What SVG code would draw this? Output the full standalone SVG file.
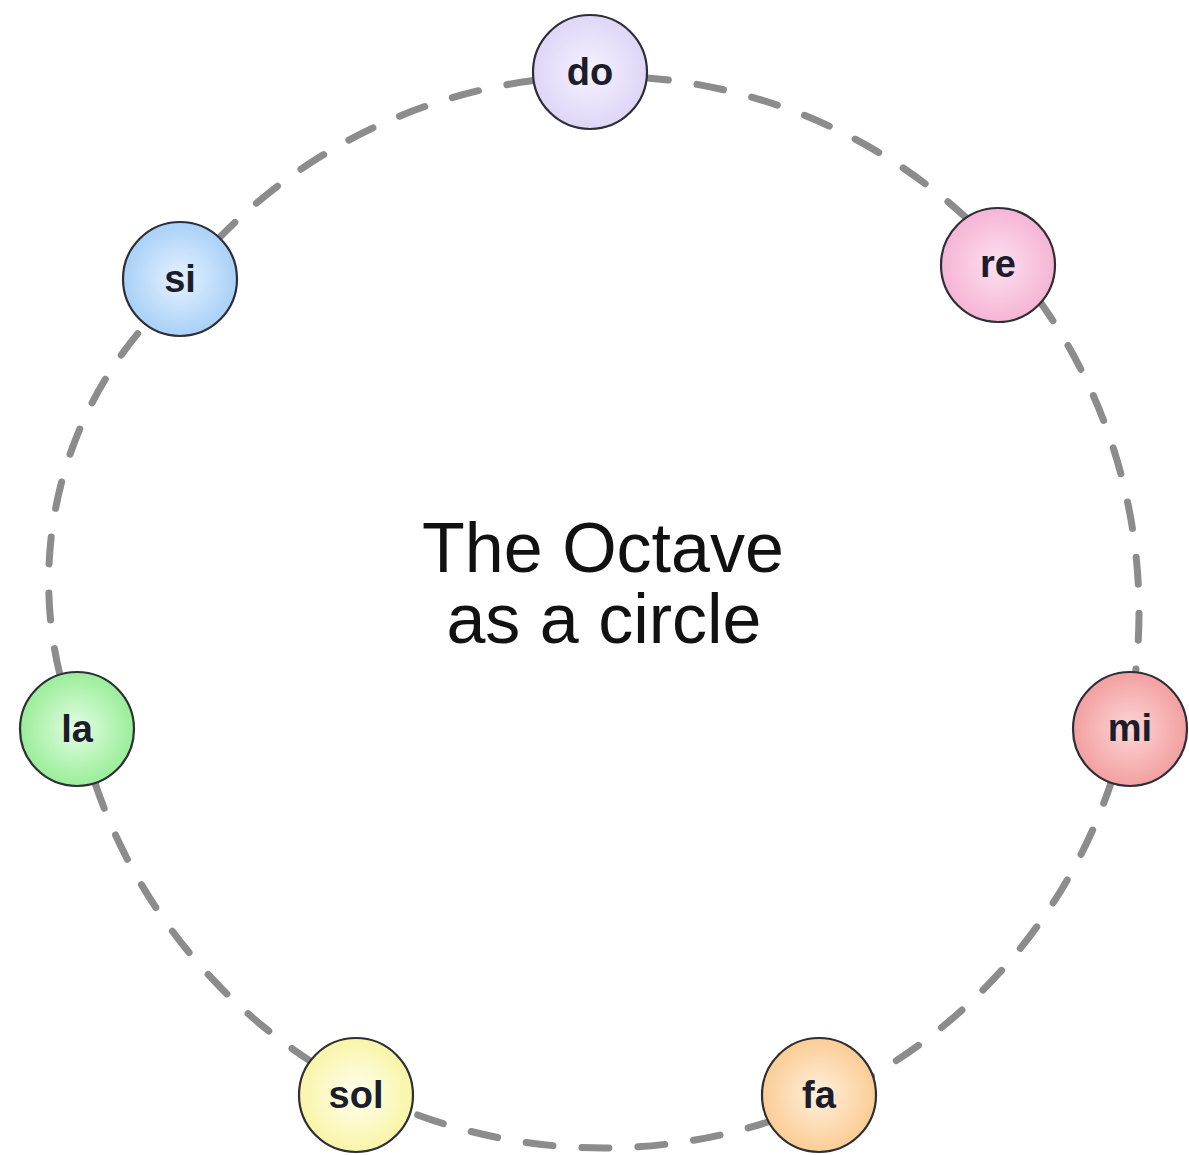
<svg xmlns="http://www.w3.org/2000/svg" width="1189" height="1155" viewBox="0 0 1189 1155">
  <style>
    .edge { fill: none; stroke: #8c8c8c; stroke-width: 7; stroke-dasharray: 27 29; stroke-linecap: round; }
    .node circle { stroke: #2e2e36; stroke-width: 2.2; }
    .label { font-family: "Liberation Sans", Arial, sans-serif; font-weight: bold; font-size: 38px; fill: #1c1c2a; text-anchor: middle; }
    .title { font-family: "Liberation Sans", Arial, sans-serif; font-size: 70px; fill: #111; text-anchor: middle; }
  </style>
  <defs>
    <radialGradient id="gDo" cx="50%" cy="50%" r="55%"><stop offset="0" stop-color="#f6f2ff"/><stop offset="1" stop-color="#ddd3f6"/></radialGradient>
    <radialGradient id="gRe" cx="50%" cy="50%" r="55%"><stop offset="0" stop-color="#fde0ef"/><stop offset="1" stop-color="#f5b0d2"/></radialGradient>
    <radialGradient id="gMi" cx="50%" cy="50%" r="55%"><stop offset="0" stop-color="#fdd6d6"/><stop offset="1" stop-color="#f29a9a"/></radialGradient>
    <radialGradient id="gFa" cx="50%" cy="50%" r="55%"><stop offset="0" stop-color="#fff0dc"/><stop offset="1" stop-color="#fbc98e"/></radialGradient>
    <radialGradient id="gSol" cx="50%" cy="50%" r="55%"><stop offset="0" stop-color="#fffff0"/><stop offset="1" stop-color="#f8f4a0"/></radialGradient>
    <radialGradient id="gLa" cx="50%" cy="50%" r="55%"><stop offset="0" stop-color="#e4fde4"/><stop offset="1" stop-color="#92ec92"/></radialGradient>
    <radialGradient id="gSi" cx="50%" cy="50%" r="55%"><stop offset="0" stop-color="#e6f2ff"/><stop offset="1" stop-color="#a2cdf7"/></radialGradient>
  </defs>
  <rect width="1189" height="1155" fill="#ffffff"/>
  <g id="connectors">
    <path class="edge" d="M641.5,77.4 A536,536 0 0 1 969.9,221.3"/>
    <path class="edge" d="M1037.7,298.5 A536,536 0 0 1 1135.0,677.5"/>
    <path class="edge" d="M1112.7,777.8 A536,536 0 0 1 867.7,1078.1"/>
    <path class="edge" d="M773.9,1120.0 A536,536 0 0 1 405.9,1110.4"/>
    <path class="edge" d="M314.3,1063.6 A536,536 0 0 1 93.3,778.0"/>
    <path class="edge" d="M60.0,675.0 A390,390 0 0 1 145.0,325.0"/>
    <path class="edge" d="M215.7,241.5 A536,536 0 0 1 538.8,79.9"/>
  </g>
  <g id="node-do" class="node"><circle cx="590" cy="72" r="57" fill="url(#gDo)"/><text class="label" x="590" y="85">do</text></g>
  <g id="node-re" class="node"><circle cx="998" cy="265" r="57" fill="url(#gRe)"/><text class="label" x="998" y="277">re</text></g>
  <g id="node-mi" class="node"><circle cx="1130" cy="729" r="57" fill="url(#gMi)"/><text class="label" x="1130" y="741">mi</text></g>
  <g id="node-fa" class="node"><circle cx="819" cy="1095" r="57" fill="url(#gFa)"/><text class="label" x="819" y="1108">fa</text></g>
  <g id="node-sol" class="node"><circle cx="356" cy="1095" r="57" fill="url(#gSol)"/><text class="label" x="356" y="1108">sol</text></g>
  <g id="node-la" class="node"><circle cx="77" cy="729" r="57" fill="url(#gLa)"/><text class="label" x="77" y="742">la</text></g>
  <g id="node-si" class="node"><circle cx="180" cy="279" r="57" fill="url(#gSi)"/><text class="label" x="180" y="292">si</text></g>
  <g id="title">
    <text class="title" x="603" y="572">The Octave</text>
    <text class="title" x="604" y="643">as a circle</text>
  </g>
</svg>
